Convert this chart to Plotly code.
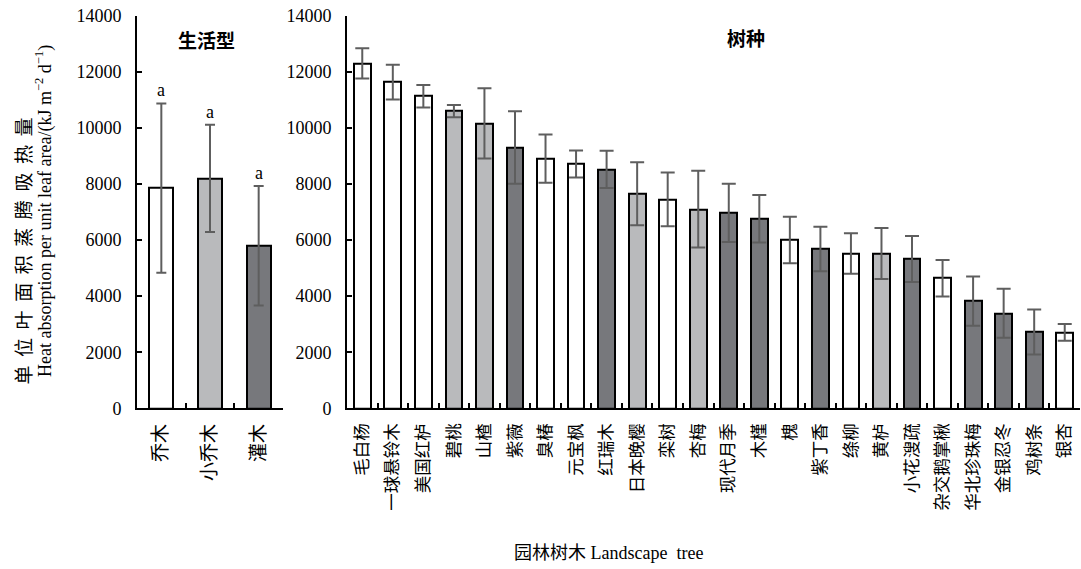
import plotly.graph_objects as go

W, H = 1081, 569

# ---- data ----
life_forms = ["乔木", "小乔木", "灌木"]
life_means = [7850, 8200, 5800]
life_errs = [3020, 1910, 2130]
life_letters = ["a", "a", "a"]

species = ["毛白杨", "一球悬铃木", "美国红栌", "碧桃", "山楂", "紫薇", "臭椿", "元宝枫",
           "红瑞木", "日本晚樱", "栾树", "杏梅", "现代月季", "木槿", "槐", "紫丁香",
           "绦柳", "黄栌", "小花溲疏", "杂交鹅掌楸", "华北珍珠梅", "金银忍冬", "鸡树条", "银杏"]
species_means = [12300, 11630, 11130, 10600, 10160, 9300, 8900, 8710,
                 8520, 7650, 7450, 7100, 6970, 6760, 6000, 5680,
                 5520, 5520, 5320, 4640, 3820, 3390, 2720, 2710]
species_errs = [535, 620, 400, 220, 1250, 1290, 860, 480,
                660, 1120, 960, 1370, 1040, 850, 830, 790,
                720, 910, 820, 650, 880, 870, 800, 300]
species_form = ["乔木", "乔木", "乔木", "小乔木", "小乔木", "灌木", "乔木", "乔木",
                "灌木", "小乔木", "乔木", "小乔木", "灌木", "灌木", "乔木", "灌木",
                "乔木", "小乔木", "灌木", "乔木", "灌木", "灌木", "灌木", "乔木"]

form_colors = {"乔木": "#ffffff", "小乔木": "#b9babc", "灌木": "#77787c"}

SERIF = "Liberation Serif, Times New Roman, Noto Sans CJK SC"
CJK = "Noto Sans CJK SC"
ERR_COLOR = "#5e5e5e"


def px(x):
    return x / W


def py(y):
    return 1 - y / H


fig = go.Figure()

fig.add_trace(go.Bar(
    x=life_forms, y=life_means, width=0.49,
    marker=dict(color=[form_colors[f] for f in life_forms], line=dict(color="black", width=2)),
    error_y=dict(type="data", array=life_errs, color=ERR_COLOR, thickness=2, width=5),
    xaxis="x", yaxis="y", showlegend=False, hoverinfo="skip",
))

fig.add_trace(go.Bar(
    x=species, y=species_means, width=0.55,
    marker=dict(color=[form_colors[f] for f in species_form], line=dict(color="black", width=2)),
    error_y=dict(type="data", array=species_errs, color=ERR_COLOR, thickness=2, width=7),
    xaxis="x2", yaxis="y2", showlegend=False, hoverinfo="skip",
))

common_x = dict(
    type="category", showline=True, linecolor="black", linewidth=2,
    ticks="inside", ticklen=5, tickcolor="black", tickwidth=2, tickson="boundaries",
    tickangle=-90, showgrid=False, zeroline=False, ticklabelstandoff=6, automargin=False,
)
common_y = dict(
    range=[0, 14000], dtick=2000, tickformat="d", showline=True, linecolor="black", linewidth=2,
    ticks="inside", ticklen=5, tickcolor="black", tickwidth=2, showgrid=False,
    zeroline=False, domain=[py(408.3), py(15.7)], ticklabelstandoff=10, automargin=False,
    tickfont=dict(family=SERIF, size=18, color="black"),
)

fig.update_layout(
    width=W, height=H,
    margin=dict(l=0, r=0, t=0, b=0, pad=0, autoexpand=False),
    paper_bgcolor="white", plot_bgcolor="white",
    bargap=0,
    xaxis=dict(domain=[px(137), px(283)], range=[-0.5, 2.5], anchor="y",
               tickfont=dict(family=CJK, size=19, color="black"), **common_x),
    yaxis=dict(anchor="x", **common_y),
    xaxis2=dict(domain=[px(347), px(1080)], range=[-0.5, 23.5], anchor="y2",
                tickfont=dict(family=CJK, size=17.5, color="black"), **common_x),
    yaxis2=dict(anchor="x2", **common_y),
)

annotations = []
for name, m, e, lt in zip(life_forms, life_means, life_errs, life_letters):
    annotations.append(dict(x=name, y=m + e, xref="x", yref="y", text=lt, showarrow=False,
                            yshift=13, xanchor="center", yanchor="middle",
                            font=dict(family=SERIF, size=18, color="black")))

center = dict(xanchor="center", yanchor="middle", showarrow=False, xref="paper", yref="paper")
annotations += [
    dict(x=px(206), y=py(39), text="<b>生活型</b>",
         font=dict(family=CJK, size=19, color="black"), **center),
    dict(x=px(746), y=py(37.5), text="<b>树种</b>",
         font=dict(family=CJK, size=19, color="black"), **center),
    dict(x=px(23.5), y=py(251), text="\u00a0\u2009".join("单位叶面积蒸腾吸热量"), textangle=-90,
         font=dict(family=SERIF, size=19, color="black"), **center),
    dict(x=px(44), y=py(211),
         text="Heat absorption per unit leaf area/(kJ m<sup>\u22122</sup> d<sup>\u22121</sup>)",
         textangle=-90, font=dict(family=SERIF, size=18, color="black"), **center),
    dict(x=px(608), y=py(553), text="园林树木 Landscape\u00a0 tree",
         font=dict(family=SERIF, size=18, color="black"), **center),
]
fig.update_layout(annotations=annotations)

fig.write_html("out.html", config={"displayModeBar": False},
               post_script="document.body.style.margin='0px';")
